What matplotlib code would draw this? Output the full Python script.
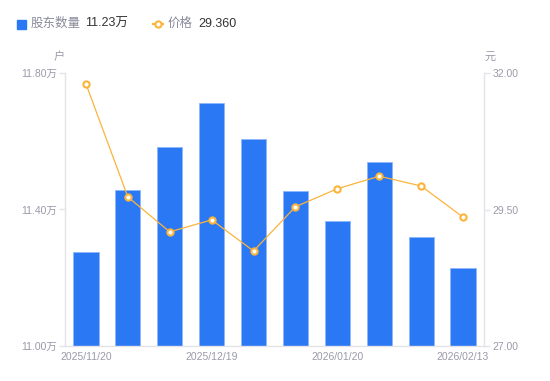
import numpy as np
import matplotlib.pyplot as plt

plt.rcParams['font.family'] = ['Liberation Sans', 'Noto Sans CJK SC', 'DejaVu Sans']

# data
dates = ['2025/11/20', '2025/11/30', '2025/12/10', '2025/12/19', '2025/12/31',
         '2026/01/09', '2026/01/20', '2026/01/30', '2026/02/10', '2026/02/13']
holders = [11.275, 11.457, 11.583, 11.712, 11.607, 11.454, 11.366, 11.539, 11.319, 11.23]  # 万户
price = [31.80, 29.73, 29.09, 29.31, 28.74, 29.55, 29.88, 30.11, 29.93, 29.36]
shown_labels = [0, 3, 6, 9]

blue = '#2A78F4'
orange = '#FBB43A'
grid_col = '#E3E3E8'
text_col = '#9A9AAA'

fig = plt.figure(figsize=(5.5, 3.81), dpi=100)
ax = fig.add_axes([65 / 550, 35 / 381, 419 / 550, 273 / 381])
ax2 = ax.twinx()

x = np.arange(len(dates))
ax.bar(x, holders, width=0.6, color=blue, edgecolor='#8DB6FA', linewidth=0.6, zorder=2)
ax.set_xlim(-0.5, len(dates) - 0.5)
ax.set_ylim(11.0, 11.8)
ax.set_yticks([11.0, 11.4, 11.8])
ax.set_yticklabels(['11.00万', '11.40万', '11.80万'])

ax2.plot(x, price, color=orange, linewidth=0.9, marker='o', markersize=4.5,
         markerfacecolor='white', markeredgecolor=orange, markeredgewidth=1.5, zorder=3)
ax2.set_ylim(27.0, 32.0)
ax2.set_yticks([27.0, 29.5, 32.0])
ax2.set_yticklabels(['27.00', '29.50', '32.00'])

ax.set_xticks([x[i] for i in shown_labels])
ax.set_xticklabels([dates[i] for i in shown_labels])

for a in (ax, ax2):
    for s in a.spines.values():
        s.set_visible(False)
    a.tick_params(axis='y', colors=grid_col, labelcolor=text_col, labelsize=7.5,
                  length=4, width=1, pad=2)
ax.spines['left'].set_visible(True)
ax.spines['bottom'].set_visible(True)
ax2.spines['right'].set_visible(True)
for s in (ax.spines['left'], ax.spines['bottom'], ax2.spines['right']):
    s.set_color(grid_col)
    s.set_linewidth(1)
ax.tick_params(axis='x', length=0, labelcolor=text_col, labelsize=7.5, pad=4)

# unit labels
fig.text(59 / 550, 1 - 57 / 381, '户', color=text_col, fontsize=8, ha='center', va='center')
fig.text(490 / 550, 1 - 57 / 381, '元', color=text_col, fontsize=8, ha='center', va='center')

# legend drawn by hand
fig.patches.append(plt.Rectangle((17 / 550, 1 - 29 / 381), 9 / 550, 9 / 381,
                                 transform=fig.transFigure, color=blue, figure=fig))
fig.text(31 / 550, 1 - 24 / 381, '股东数量', color='#8A8A9A', fontsize=9, va='center')
fig.text(85 / 550, 1 - 24 / 381, '11.23万', color='#333333', fontsize=9, va='center')
fig.lines.append(plt.Line2D([153 / 550, 163 / 550], [1 - 24 / 381, 1 - 24 / 381],
                            transform=fig.transFigure, color=orange, linewidth=1.5,
                            marker='o', markevery=[0], markersize=0))
fig.lines.append(plt.Line2D([158 / 550], [1 - 24 / 381], transform=fig.transFigure,
                            color=orange, marker='o', markersize=4.5, markerfacecolor='white',
                            markeredgewidth=1.5, linestyle='none'))
fig.text(168 / 550, 1 - 24 / 381, '价格', color='#8A8A9A', fontsize=9, va='center')
fig.text(198 / 550, 1 - 24 / 381, '29.360', color='#333333', fontsize=9, va='center')

fig.savefig('out.png', dpi=100)
